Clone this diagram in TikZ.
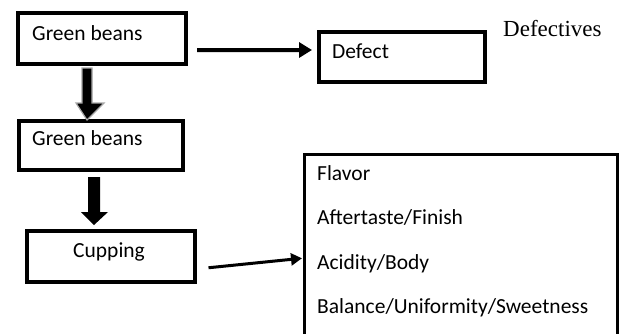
\documentclass[tikz,border=0pt]{standalone}
\usepackage{fontspec}
\setmainfont{Carlito}
\newfontfamily\timesfont{Liberation Serif}
\usetikzlibrary{arrows.meta}
\begin{document}
\begin{tikzpicture}[x=1bp,y=-1bp,
  thickbox/.style={draw=black,line width=4bp,minimum width=#1,inner sep=0pt,anchor=north west},
  lbl/.style={anchor=base west,inner sep=0pt,font=\fontsize{21.5bp}{26bp}\selectfont},
  conn/.style={line width=4bp,-{Triangle[length=13bp,width=15bp]}},
  thinconn/.style={line width=3bp,-{Triangle[length=11bp,width=12bp]}}]
\clip (0,0) rectangle (621,333);
\fill[white] (0,0) rectangle (621,333);
% boxes
\node[thickbox=168bp,minimum height=51bp] (box1) at (16,11) {};
\node[thickbox=164bp,minimum height=49bp] (box2) at (17,119) {};
\node[thickbox=166bp,minimum height=50bp] (defect) at (317,30) {};
\node[thickbox=168bp,minimum height=51bp,line width=3.5bp] (cup) at (25,229) {};
\node[draw=black,line width=2.5bp,minimum width=313bp,minimum height=192bp,inner sep=0pt,anchor=north west] (props) at (303,153) {};
% texts
\node[lbl] (t1) at (32,40) {Green beans};
\node[lbl] (t2) at (32,145) {Green beans};
\node[lbl] (t3) at (332,58) {Defect};
\node[lbl] (t4) at (73,257) {Cupping};
\node[anchor=base west,inner sep=0pt,font=\timesfont\fontsize{23bp}{27bp}\selectfont] (t5) at (503,36) {Defectives};
\node[lbl] (p1) at (317,180) {Flavor};
\node[lbl] (p2) at (317,224) {Aftertaste/Finish};
\node[lbl] (p3) at (317,269) {Acidity/Body};
\node[lbl] (p4) at (317,313) {Balance/Uniformity/Sweetness};
% connectors
\draw[conn] ([shift={(9,11.5)}]box1.east) -- ([shift={(-5,-7)}]defect.west);
\draw[thinconn] ([shift={(12,11.5)}]cup.east) -- ([shift={(-1,8)}]props.west);
% block arrows
\draw[fill=black,draw=gray!70,line width=1.2bp]
  (82,68) -- (92,68) -- (92,103) -- (104,103) -- (87,120) -- (76,103) -- (82,103) -- cycle;
\fill[black] (88,177) -- (100,177) -- (100,212) -- (108,212) -- (94,225) -- (81,212) -- (88,212) -- cycle;
\end{tikzpicture}
\end{document}
